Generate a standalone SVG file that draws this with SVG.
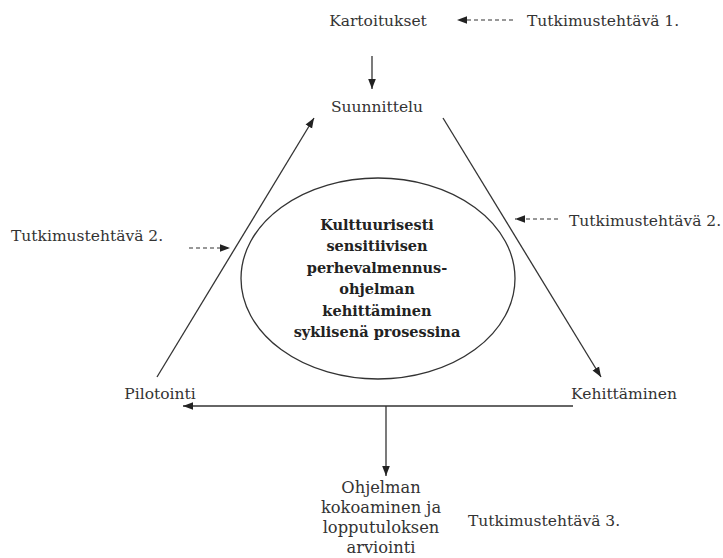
<svg xmlns="http://www.w3.org/2000/svg" width="723" height="558" viewBox="0 0 723 558">
<style>
text{font-family:"DejaVu Serif","Liberation Serif",serif;font-size:15.5px;fill:#333;}
.c{text-anchor:middle;}
.o{font-size:16.3px;}
.b{font-weight:bold;font-size:14.5px;fill:#222;}
.ln{stroke:#333;stroke-width:1.3;fill:none;}
.d{stroke:#333;stroke-width:1.2;fill:none;stroke-dasharray:4 3;}
</style>
<defs>
<marker id="ah" viewBox="0 0 10 10" refX="10" refY="5" markerWidth="10" markerHeight="10" markerUnits="userSpaceOnUse" orient="auto"><path d="M0,1.2 L10,5 L0,8.8 z" fill="#222"/></marker>
</defs>
<rect width="723" height="558" fill="#fff"/>
<g id="connectors">
<line class="ln" x1="372" y1="56" x2="372" y2="89" marker-end="url(#ah)"/>
<line class="ln" x1="157" y1="377" x2="314" y2="118" marker-end="url(#ah)"/>
<line class="ln" x1="443" y1="118" x2="601" y2="377" marker-end="url(#ah)"/>
<line class="ln" x1="573" y1="406" x2="183" y2="406" marker-end="url(#ah)"/>
<line class="ln" x1="386" y1="406" x2="386" y2="476" marker-end="url(#ah)"/>
<line class="d" x1="513" y1="20" x2="457" y2="20" marker-end="url(#ah)"/>
<line class="d" x1="189" y1="248" x2="230" y2="248" marker-end="url(#ah)"/>
<line class="d" x1="558" y1="219" x2="515" y2="219" marker-end="url(#ah)"/>
</g>
<g id="kartoitukset"><text class="c" x="378" y="26">Kartoitukset</text></g>
<g id="t1"><text x="527" y="26">Tutkimustehtävä 1.</text></g>
<g id="suunnittelu"><text class="c" x="377" y="112">Suunnittelu</text></g>
<g id="t2left"><text x="11" y="241">Tutkimustehtävä 2.</text></g>
<g id="t2right"><text x="569" y="226">Tutkimustehtävä 2.</text></g>
<g id="center">
<ellipse cx="378" cy="278.5" rx="137" ry="100.5" class="ln" stroke-width="1"/>
<text class="c b" x="377" y="230">Kulttuurisesti</text>
<text class="c b" x="377" y="251.4">sensitiivisen</text>
<text class="c b" x="377" y="272.8">perhevalmennus-</text>
<text class="c b" x="377" y="294.2">ohjelman</text>
<text class="c b" x="377" y="315.6">kehittäminen</text>
<text class="c b" x="377" y="337">syklisenä prosessina</text>
</g>
<g id="pilotointi"><text class="c" x="160" y="399">Pilotointi</text></g>
<g id="kehittaminen"><text class="c" x="624" y="399">Kehittäminen</text></g>
<g id="ohjelman">
<text class="c o" x="381" y="493">Ohjelman</text>
<text class="c o" x="381" y="513">kokoaminen ja</text>
<text class="c o" x="381" y="533">lopputuloksen</text>
<text class="c o" x="381" y="553">arviointi</text>
</g>
<g id="t3"><text x="468" y="526">Tutkimustehtävä 3.</text></g>
</svg>
